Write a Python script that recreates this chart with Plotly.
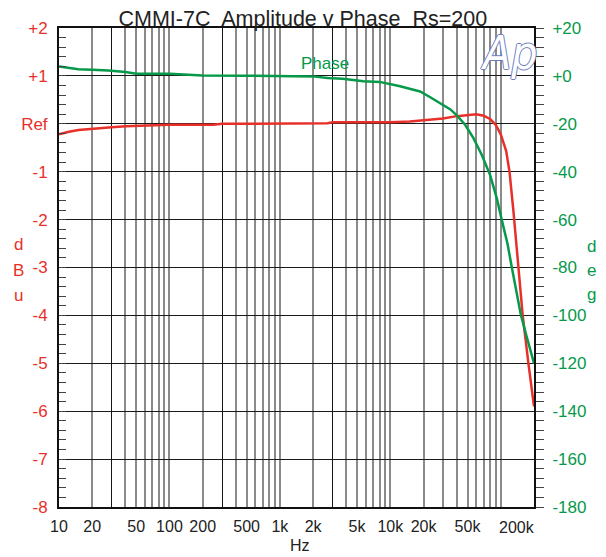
import math
import plotly.graph_objects as go

# amplitude sweep (dBu, relative to ref)
amp_freq = [10, 12, 15, 20, 25, 30, 40, 50, 70, 100, 150, 250, 300, 500, 1000, 2000,
            2700, 3000, 5000, 10000, 15000, 20000, 30000, 40000, 50000, 60000, 70000,
            80000, 90000, 100000, 112000, 120000, 130000, 145000, 158000, 178000, 200000]
amp_db = [-0.22, -0.17, -0.13, -0.10, -0.08, -0.07, -0.05, -0.04, -0.03, -0.02, -0.02,
          -0.02, 0.0, 0.0, 0.0, 0.0, 0.01, 0.03, 0.03, 0.03, 0.05, 0.07, 0.11, 0.16,
          0.19, 0.20, 0.17, 0.10, -0.02, -0.22, -0.57, -1.0, -1.8, -3.0, -4.0, -5.0, -5.9]

# phase sweep (deg)
ph_freq = [10, 15, 20, 28, 40, 50, 100, 150, 200, 500, 1000, 2000, 2700, 3700, 5700,
           8000, 12000, 18600, 23000, 28300, 35000, 40000, 47600, 56600, 67400, 80000,
           92000, 102000, 115000, 126000, 140000, 152000, 172000, 200000]
ph_deg = [3.9, 2.8, 2.6, 2.3, 1.6, 0.9, 0.9, 0.6, 0.2, 0.1, 0.0, -0.2, -0.9, -1.2, -2.2,
          -2.5, -4.2, -6.5, -8.9, -11.4, -14.0, -16.5, -20.4, -26.0, -33.0, -41.3,
          -51.0, -60.0, -70.0, -80.0, -91.0, -99.7, -109.0, -120.0]

x_tick_vals = [10, 20, 50, 100, 200, 500, 1000, 2000, 5000, 10000, 20000, 50000]
x_tick_text = ["10", "20", "50", "100", "200", "500", "1k", "2k", "5k", "10k", "20k", "50k"]
x_end_label = "200k"

db_tick_vals = [2, 1, 0, -1, -2, -3, -4, -5, -6, -7, -8]
db_tick_text = ["+2", "+1", "Ref", "-1", "-2", "-3", "-4", "-5", "-6", "-7", "-8"]
deg_tick_vals = [20, 0, -20, -40, -60, -80, -100, -120, -140, -160, -180]
deg_tick_text = ["+20", "+0", "-20", "-40", "-60", "-80", "-100", "-120", "-140", "-160", "-180"]

FONT = "Liberation Sans, Arial, sans-serif"
RED = "#e8302a"
GREEN = "#07994a"

# grid: grey lines at 2,4..10 x decade, dark ones at 3 x decade
grey_grid = [m * 10 ** e for e in range(1, 5) for m in (2, 4, 5, 6, 7, 8, 9, 10)] + [30000]
dark_grid = [30, 300, 3000]

x_range = [math.log10(10), math.log10(200000)]

fig = go.Figure()
fig.add_trace(go.Scatter(x=amp_freq, y=amp_db, mode="lines",
                         line=dict(color=RED, width=2.5), xaxis="x", yaxis="y"))
fig.add_trace(go.Scatter(x=ph_freq, y=ph_deg, mode="lines",
                         line=dict(color=GREEN, width=2.5), xaxis="x2", yaxis="y2"))

# page body has an 8px margin, so the figure is shrunk and shifted to compensate
fig.update_layout(
    width=598, height=549,
    margin=dict(l=51, r=72, t=20, b=50),
    paper_bgcolor="white", plot_bgcolor="white",
    showlegend=False,
    font=dict(family=FONT, size=16, color="#222"),
    title=dict(text="CMMI-7C\u00a0 Amplitude v Phase\u00a0 Rs=200",
               x=0.493, xanchor="center", y=1 - 10 / 549, yanchor="middle", yref="container",
               font=dict(size=21.5, color="#222")),
    xaxis=dict(type="log", range=x_range, tickmode="array",
               tickvals=x_tick_vals, ticktext=x_tick_text,
               showgrid=False, ticks="", zeroline=False,
               showline=True, linecolor="#111", linewidth=2, mirror=True,
               tickfont=dict(size=16, color="#222"), ticklabelstandoff=4,
               minor=dict(tickmode="array", tickvals=grey_grid, showgrid=True,
                          gridcolor="#8a8a8a", gridwidth=1.6, ticks="")),
    xaxis2=dict(type="log", range=x_range, overlaying="x", side="bottom",
                tickmode="array", tickvals=dark_grid, showticklabels=False,
                showgrid=True, gridcolor="#151515", gridwidth=1.3, ticks="",
                zeroline=False, showline=False),
    yaxis=dict(range=[-8, 2], tickmode="array", tickvals=db_tick_vals, ticktext=db_tick_text,
               showgrid=True, gridcolor="#1a1a1a", gridwidth=1.3, zeroline=False,
               ticks="inside", ticklen=7, tickcolor="#444",
               showline=True, linecolor="#111", linewidth=2,
               tickfont=dict(size=17, color=RED), ticklabelstandoff=6,
               minor=dict(dtick=0.2, ticks="inside", ticklen=7, tickcolor="#444")),
    yaxis2=dict(range=[-180, 20], overlaying="y", side="right",
                tickmode="array", tickvals=deg_tick_vals, ticktext=deg_tick_text,
                showgrid=False, zeroline=False, ticks="",
                showline=True, linecolor="#111", linewidth=2,
                tickfont=dict(size=17, color=GREEN), ticklabelstandoff=13,
                minor=dict(dtick=4, ticks="outside", ticklen=8, tickcolor="#444")),
)

# last x label sits flush against the right edge
fig.add_annotation(x=math.log10(200000), xref="x", y=-0.042, yref="paper",
                   text=x_end_label, showarrow=False, xanchor="right", yanchor="middle",
                   xshift=3, font=dict(size=16, color="#222"))
fig.add_annotation(x=0.508, xref="paper", y=-0.08, yref="paper", text="Hz",
                   showarrow=False, xanchor="center", yanchor="middle",
                   font=dict(size=16, color="#222"))

fig.add_annotation(x=0.56, xref="paper", y=0.926, yref="paper", text="Phase",
                   showarrow=False, xanchor="center", yanchor="middle",
                   font=dict(size=17, color=GREEN))

# stacked axis titles
for i, ch in enumerate("dBu"):
    fig.add_annotation(x=-0.0863, xref="paper", y=0.547 - i * 0.0532, yref="paper", text=ch,
                       showarrow=False, xanchor="center", yanchor="middle",
                       font=dict(size=17, color=RED))
for i, ch in enumerate("deg"):
    fig.add_annotation(x=1.122, xref="paper", y=0.543 - i * 0.0502, yref="paper", text=ch,
                       showarrow=False, xanchor="center", yanchor="middle",
                       font=dict(size=17, color=GREEN))

# Ap logo
fig.add_annotation(x=0.947, xref="paper", y=0.948, yref="paper", text="<i>Ap</i>",
                   showarrow=False, xanchor="center", yanchor="middle",
                   font=dict(size=46, color="white",
                             family="DejaVu Sans Condensed, Liberation Sans Narrow, sans-serif",
                             shadow="1px 0 0 #6b7cc0, -1px 0 0 #6b7cc0, 0 1px 0 #6b7cc0, 0 -1px 0 #6b7cc0"))

fig.write_html("out.html")
